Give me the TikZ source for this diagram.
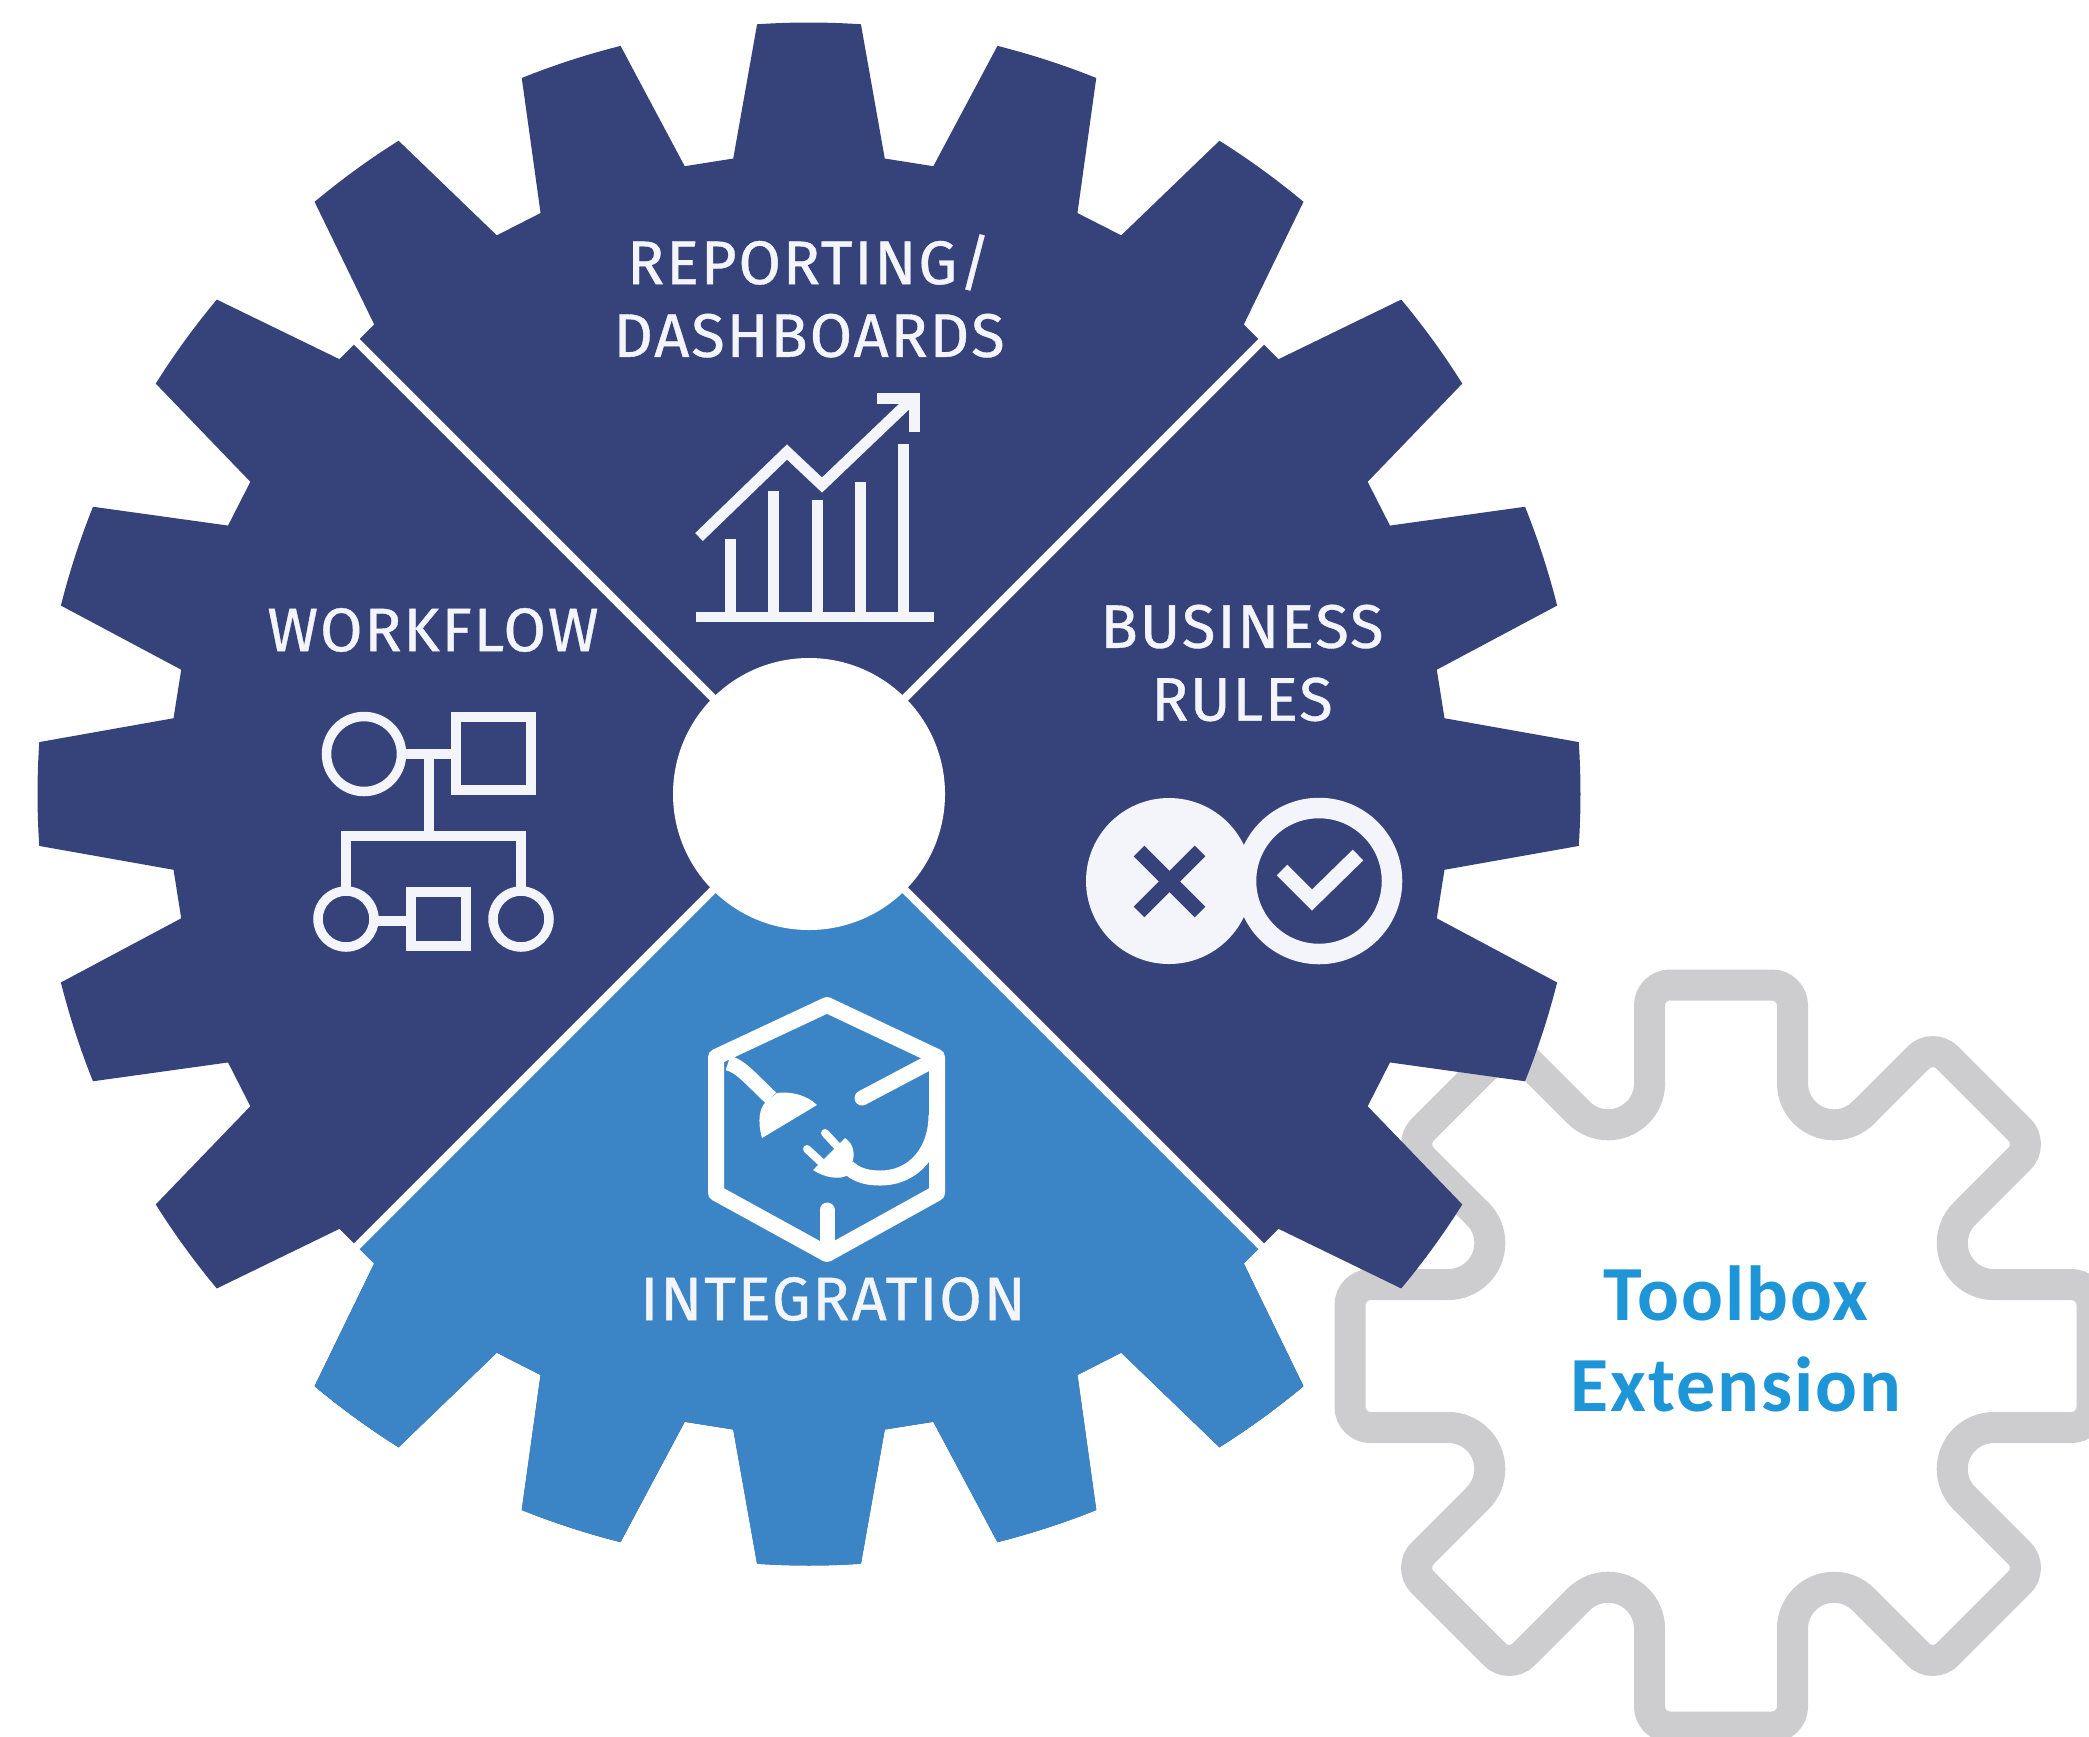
\documentclass[tikz,border=0pt]{standalone}
\usepackage{fontspec}
\setmainfont{Fira Sans}[LetterSpace=3, FakeBold=0.6]
\newfontfamily\toolfont{Carlito}[LetterSpace=2.5]
\definecolor{cognavy}{HTML}{36427A}
\definecolor{cogblue}{HTML}{3B85C6}
\definecolor{coggray}{HTML}{CDCDCF}
\definecolor{iconwhite}{HTML}{F4F5FA}
\definecolor{toolblue}{HTML}{1E95D6}
\newcommand{\cogoutline}{(-6.8:640) \foreach \a in {0,18,...,342} { -- ({\a-6.8}:640) -- ({\a-3.86}:771.5) arc[start angle={\a-3.86}, end angle={\a+3.86}, radius=771.5] -- ({\a+6.8}:640) } -- cycle}

\begin{document}
\begin{tikzpicture}[x=0.01cm, y=-0.01cm,
    cogtext/.style={text=iconwhite, align=center, font=\fontsize{17.5}{20.7}\selectfont},
    tooltext/.style={text=toolblue, align=center, font=\toolfont\bfseries\fontsize{22.2}{25.8}\selectfont},
    iconline/.style={draw=iconwhite, line width=0.95mm}]
    \useasboundingbox (0,0) rectangle (2089,1736);
    \clip (0,0) rectangle (2089,1736);

    % small gear behind the big one
    \begin{scope}[shift={(1721,1356)}, yscale=-1]
        \foreach \a in {0,45,...,315}
            \draw[coggray, line width=3.1mm, line cap=round, rotate=\a] (-71.5,272.7) -- (-71.5,350.5) arc[start angle=180, end angle=90, radius=20.5] -- (51,371) arc[start angle=90, end angle=0, radius=20.5] -- (71.5,272.7) arc[start angle=180, end angle=315, radius=41.5];
    \end{scope}

    % big gear
    \begin{scope}[shift={(809,794)}, yscale=-1]
        \fill[cognavy] \cogoutline;
        \begin{scope}
            \clip (0,0) -- (-1000,-1000) -- (1000,-1000) -- cycle;
            \fill[cogblue] \cogoutline;
        \end{scope}
        \foreach \a in {45,135,225,315}
            \draw[white, line width=0.8mm] (0,0) -- (\a:645);
        \fill[white] (0,0) circle[radius=136];
    \end{scope}

    \node[cogtext] (reporting) at (809,296) {REPORTING/\\DASHBOARDS};
    \node[cogtext] (workflow) at (433,630) {WORKFLOW};
    \node[cogtext] (rules) at (1242,663) {BUSINESS\\RULES};
    \node[cogtext] (integration) at (833,1299) {INTEGRATION};
    \node[tooltext] (toolbox) at (1736,1339) {Toolbox\\Extension};

    % chart
    \draw[iconline, line width=1mm] (696,617) -- (934,617);
    \foreach \x/\y in {730/539, 773/491, 817/500, 860/482, 903/444}
        \draw[iconline, line width=1.1mm] (\x,617) -- (\x,\y);
    \draw[iconline, line width=1.1mm] (699,537) -- (787,452) -- (822,485) -- (911,400);
    \draw[iconline, line width=1.1mm] (877,398) -- (914,398) -- (914,432);

    % workflow
    \draw[iconline] (364,754) circle[radius=37.5];
    \draw[iconline] (456,717) rectangle (531,790);
    \draw[iconline] (406,754) -- (452,754);
    \draw[iconline] (429,754) -- (429,836);
    \draw[iconline] (346,888) -- (346,836) -- (521,836) -- (521,888);
    \draw[iconline] (346,919) circle[radius=28];
    \draw[iconline] (521,919) circle[radius=28];
    \draw[iconline] (411,892) rectangle (466,946);
    \draw[iconline] (377,921) -- (407,921);

    % rules
    \fill[iconwhite] (1169,881) circle[radius=83];
    \draw[iconwhite, line width=2.05mm] (1319,881) circle[radius=73];
    \draw[cognavy, line width=1.5mm] (1139,851) -- (1200,912);
    \draw[cognavy, line width=1.5mm] (1139,912) -- (1200,851);
    \draw[iconwhite, line width=1.5mm] (1282,870) -- (1312,900) -- (1358,855);

    % box and plug
    \draw[white, line width=1.6mm, line join=round] (827,1005) -- (937,1057) -- (937,1193) -- (827,1254) -- (716,1193) -- (716,1057) -- cycle;
    \draw[white, line width=1.5mm, line cap=round] (932,1061) -- (862,1098);
    \draw[white, line width=1.5mm, line cap=round] (827,1210) -- (827,1250);
    \draw[white, line width=1.5mm] (728,1063) .. controls (740,1066) and (748,1076) .. (771,1098);
    \fill[white] (777,1093) .. controls (790,1091) and (807,1095) .. (817,1105) -- (762,1138) .. controls (757,1120) and (760,1108) .. (765,1103) -- cycle;
    \draw[white, line width=1.5mm] (936,1115) .. controls (936,1150) and (915,1178) .. (880,1178) .. controls (865,1178) and (855,1174) .. (848,1167);
    \fill[white] (845,1138) -- (813,1170) .. controls (825,1178) and (840,1180) .. (848,1175) -- (853,1160) .. controls (855,1150) and (852,1143) .. (845,1138) -- cycle;
    \draw[white, line width=0.8mm, line cap=round] (825,1133) -- (838,1147);
    \draw[white, line width=0.8mm, line cap=round] (807,1149) -- (822,1163);
\end{tikzpicture}
\end{document}
